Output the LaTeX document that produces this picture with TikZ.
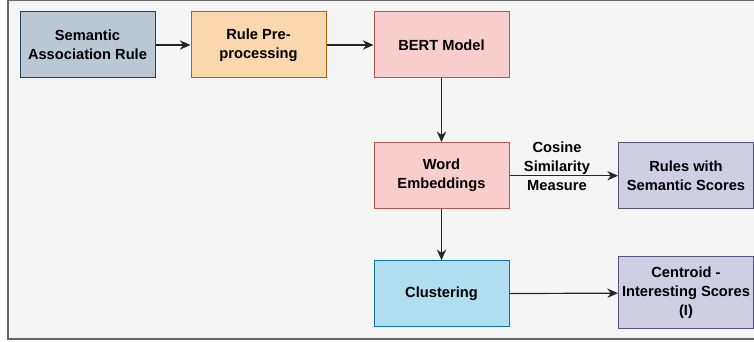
\documentclass[tikz,border=0pt]{standalone}
\usepackage{fontspec}
\setmainfont{Liberation Sans}
\usetikzlibrary{arrows.meta}

% box colours
\definecolor{bgfill}{HTML}{F5F5F5}
\definecolor{bgline}{HTML}{666666}
\definecolor{bluegray}{HTML}{BAC8D3}
\definecolor{bluegrayline}{HTML}{23445D}
\definecolor{orangefill}{HTML}{FAD7AC}
\definecolor{orangeline}{HTML}{B46504}
\definecolor{redfill}{HTML}{F8CECC}
\definecolor{redline}{HTML}{B85450}
\definecolor{purplefill}{HTML}{D0CEE2}
\definecolor{purpleline}{HTML}{56517E}
\definecolor{bluefill}{HTML}{B1DDF0}
\definecolor{blueline}{HTML}{10739E}

\tikzset{
    block/.style={draw, line width=0.75pt, minimum width=101.25pt, minimum height=49.5pt,
        align=center, inner sep=2pt, font=\fontsize{11}{14.25}\selectfont\bfseries},
    flow/.style={-{Stealth[length=8pt,width=7pt]}, line width=0.9pt, draw=black!85},
}

\begin{document}
\begin{tikzpicture}[x=0.75pt, y=-0.75pt]
    \useasboundingbox (0,0) rectangle (754,342);
    \draw[fill=bgfill, draw=bgline, line width=0.9pt] (8,0.5) rectangle (770,339);

    % top row
    \node[block, fill=bluegray, draw=bluegrayline] (rule) at (87.5,45) {Semantic\\Association Rule};
    \node[block, fill=orangefill, draw=orangeline] (prep) at (258.5,45) {Rule Pre-\\processing};
    \node[block, fill=redfill, draw=redline] (bert) at (441.5,45) {BERT Model};

    % middle and bottom
    \node[block, fill=redfill, draw=redline] (embed) at (441.5,175.7) {Word\\Embeddings};
    \node[block, fill=purplefill, draw=purpleline] (scores) at (686,175.7) {Rules with\\Semantic Scores};
    \node[block, fill=bluefill, draw=blueline] (cluster) at (441.5,293.7) {Clustering};
    \node[block, fill=purplefill, draw=purpleline, minimum height=54pt] (centroid) at (686,293) {Centroid -\\Interesting Scores\\(I)};

    \draw[flow] (rule) -- (prep);
    \draw[flow] (prep) -- (bert);
    \draw[flow] (bert) -- (embed);
    \draw[flow] (embed) -- (scores);
    \draw[flow] (embed) -- (cluster);
    \draw[flow] (cluster) -- (centroid);

    \node[align=center, font=\fontsize{11}{14.25}\selectfont\bfseries] (cosine) at (557,166) {Cosine\\Similarity\\Measure};
\end{tikzpicture}
\end{document}
